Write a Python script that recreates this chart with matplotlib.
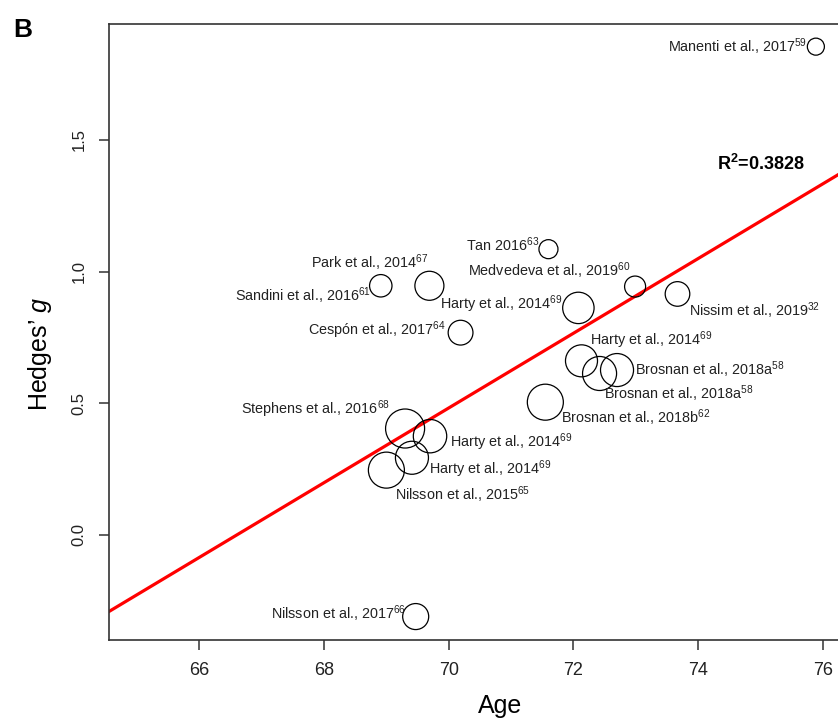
import numpy as np
import matplotlib
matplotlib.use("Agg")
import matplotlib.pyplot as plt

plt.rcParams['font.family'] = ['Liberation Sans', 'DejaVu Sans']
plt.rcParams['mathtext.fontset'] = 'custom'
plt.rcParams['mathtext.rm'] = 'Liberation Sans'
plt.rcParams['mathtext.it'] = 'Liberation Sans:italic'
plt.rcParams['mathtext.bf'] = 'Liberation Sans:bold'

# study data: mean age, Hedges' g, relative weight (bubble area)
studies = ["Manenti et al., 2017$^{59}$", "Tan 2016$^{63}$", "Medvedeva et al., 2019$^{60}$",
           "Nissim et al., 2019$^{32}$", "Harty et al., 2014$^{69}$", "Park et al., 2014$^{67}$",
           "Sandini et al., 2016$^{61}$", "Cespón et al., 2017$^{64}$", "Harty et al., 2014$^{69}$",
           "Brosnan et al., 2018a$^{58}$", "Brosnan et al., 2018a$^{58}$", "Brosnan et al., 2018b$^{62}$",
           "Stephens et al., 2016$^{68}$", "Harty et al., 2014$^{69}$", "Harty et al., 2014$^{69}$",
           "Nilsson et al., 2015$^{65}$", "Nilsson et al., 2017$^{66}$"]
age = [75.89, 71.60, 72.99, 73.67, 72.08, 69.69, 68.91, 70.19, 72.13,
       72.42, 72.70, 71.55, 69.30, 69.70, 69.41, 69.00, 69.47]
hedges_g = [1.854, 1.085, 0.943, 0.915, 0.862, 0.946, 0.946, 0.768, 0.661,
            0.613, 0.626, 0.504, 0.404, 0.375, 0.293, 0.246, -0.310]
weights = [18.1, 22.6, 27.6, 37.8, 61.6, 52.6, 31.4, 38.4, 64.0,
           72.3, 68.1, 81.0, 95.1, 69.7, 68.1, 81.0, 42.3]

# meta-regression line
intercept = -9.444
slope = 0.1418
r2_text = r"R$^{\mathbf{2}}$=0.3828"

xticks = [66, 68, 70, 72, 74, 76]
yticks = [0.0, 0.5, 1.0, 1.5]

# label placement (pixel offset from bubble centre, alignment)
lab_pos = [(-9, 5, 'right'), (-9, 2, 'right'), (-5, -11, 'right'), (12, 22, 'left'),
           (-16, 1, 'right'), (-1, -18, 'right'), (-10, 15, 'right'), (-15, 2, 'right'),
           (9, -16, 'left'), (4, 26, 'left'), (18, 5, 'left'), (16, 21, 'left'),
           (-15, -15, 'right'), (20, 11, 'left'), (17, 16, 'left'), (9, 30, 'left'),
           (-10, 2, 'right')]

W, H = 838, 719
fig = plt.figure(figsize=(W/100, H/100), dpi=100)
ax = fig.add_axes([109/W, 1-640/H, 1-109/W, (640-24)/H])

ax.scatter(age, hedges_g, s=np.array(weights)*8.3, facecolors='none',
           edgecolors='black', linewidths=0.9, zorder=3)

xs = np.array([64.0, 77.0])
ax.plot(xs, intercept + slope*xs, color='#ff0000', lw=2.3, zorder=2)

for x, y, lab, (dx, dy, ha) in zip(age, hedges_g, studies, lab_pos):
    ax.annotate(lab, (x, y), xytext=(dx, -dy), textcoords='offset pixels',
                ha=ha, va='baseline', fontsize=10.4, color='#222222')

ax.text(717/W, 1-170/H, r2_text, transform=fig.transFigure, fontsize=13,
        fontweight='bold', ha='left', va='baseline')

ax.set_xlim(64.55, 76.245)
ax.set_ylim(-0.399, 1.940)
ax.set_xticks(xticks)
ax.set_xticklabels([str(t) for t in xticks])
ax.set_yticks(yticks)
ax.set_yticklabels(["%.1f" % t for t in yticks], rotation=90, va='center')
ax.tick_params(axis='x', length=7, width=1.1, colors='#333333', labelcolor='#222222',
               labelsize=13, pad=9)
ax.tick_params(axis='y', length=7, width=1.1, colors='#333333', labelcolor='#222222',
               labelsize=12, pad=9)
for side in ['left', 'bottom', 'top']:
    ax.spines[side].set_color('#333333')
    ax.spines[side].set_linewidth(1.2)
ax.spines['right'].set_visible(False)

fig.text(46.7/W, 1-354/H, "Hedges’ $g$", rotation=90, rotation_mode='anchor',
         ha='center', va='baseline', fontsize=18)
fig.text(500/W, 1-713/H, "Age", ha='center', va='baseline', fontsize=18)
fig.text(13/W, 1-36.7/H, "B", ha='left', va='baseline', fontsize=19, fontweight='bold')

fig.savefig("out.png", dpi=100)
